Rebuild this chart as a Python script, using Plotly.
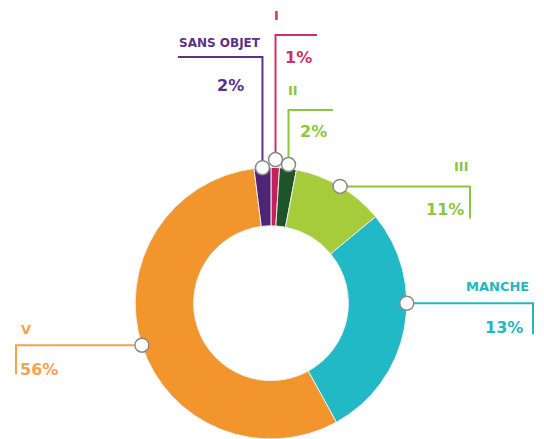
import math
import plotly.graph_objects as go

# ---- data ----
categories = ["I", "II", "III", "MANCHE", "V", "SANS OBJET"]
values = [1, 2, 11, 28, 56, 2]          # drawn share of the ring
printed = ["1%", "2%", "11%", "13%", "56%", "2%"]  # percentages as printed on the chart
colors = ["#C3215E", "#1D5429", "#A6CB3B", "#20B9C5", "#F3952D", "#4F2472"]
line_colors = ["#C8336A", "#8DC63F", "#8DC63F", "#25B6C4", "#F6A24C", "#5B3287"]

W, H = 544, 439
dom_x = [0.2472, 0.7491]
dom_y = [0.0, 0.6185]

fig = go.Figure(go.Pie(
    labels=categories, values=values, sort=False, direction="clockwise", rotation=0,
    hole=0.57, marker=dict(colors=colors, line=dict(color="#EDEDED", width=1)),
    textinfo="none", hoverinfo="label+percent", showlegend=False,
    domain=dict(x=dom_x, y=dom_y),
))

# pie geometry in pixels
px0, px1 = dom_x[0] * W, dom_x[1] * W
py0, py1 = (1 - dom_y[1]) * H, (1 - dom_y[0]) * H
R = min(px1 - px0, py1 - py0) / 2
cx, cy = (px0 + px1) / 2, (py0 + py1) / 2

def X(p): return p / W
def Y(p): return 1 - p / H

# label layout: radial offset of marker, anchor-angle nudge (deg), leader type and geometry, text spots
layout_cfg = {
    "SANS OBJET": dict(dr=0, da=0, kind="up", turn=57, end=178,
                       name=(220, 43, "center"), pct=(230, 85, "center"), fs=(12, 16)),
    "I": dict(dr=8, da=0, kind="up", turn=35, end=317,
              name=(276, 16, "center"), pct=(298, 58, "center"), fs=(13, 16)),
    "II": dict(dr=4, da=0, kind="up", turn=110, end=333,
               name=(293, 90, "center"), pct=(313, 131, "center"), fs=(13, 16)),
    "III": dict(dr=0, da=0, kind="side", end=470, drop=32,
                name=(461, 167, "center"), pct=(445, 210, "center"), fs=(13, 16)),
    "MANCHE": dict(dr=0, da=-10.8, kind="side", end=533, drop=31,
                   name=(497, 286, "center"), pct=(504, 327, "center"), fs=(13, 16)),
    "V": dict(dr=0, da=0, kind="side", end=16, drop=29,
              name=(26, 329, "center"), pct=(39, 369, "center"), fs=(13, 16)),
}

shapes, annos = [], []
total = sum(values)
cum = 0
circles = []
for cat, v, txt, lc in zip(categories, values, printed, line_colors):
    cfg = layout_cfg[cat]
    mid = (cum + v / 2) / total * 360 + cfg["da"]
    cum += v
    r = R + cfg["dr"]
    mx = cx + r * math.sin(math.radians(mid))
    my = cy - r * math.cos(math.radians(mid))
    if cfg["kind"] == "up":
        pts = [(mx, my), (mx, cfg["turn"]), (cfg["end"], cfg["turn"])]
    else:
        pts = [(mx, my), (cfg["end"], my), (cfg["end"], my + cfg["drop"])]
    path = "M " + " L ".join(f"{X(a):.5f},{Y(b):.5f}" for a, b in pts)
    shapes.append(dict(type="path", path=path, xref="paper", yref="paper",
                       line=dict(color=lc, width=2)))
    circles.append((mx, my))
    for (tx, ty, al), s, t in [(cfg["name"], cfg["fs"][0], cat), (cfg["pct"], cfg["fs"][1], txt)]:
        annos.append(dict(x=X(tx), y=Y(ty), xref="paper", yref="paper", text=f"<b>{t}</b>",
                          showarrow=False, xanchor=al, yanchor="middle",
                          font=dict(family="DejaVu Sans", size=s, color=lc)))

cr = 7
for mx, my in circles:
    shapes.append(dict(type="circle", xref="paper", yref="paper",
                       x0=X(mx - cr), x1=X(mx + cr), y0=Y(my + cr), y1=Y(my - cr),
                       fillcolor="white", line=dict(color="#8A8A8A", width=1.5)))

fig.update_layout(width=W, height=H, margin=dict(l=0, r=0, t=0, b=0),
                  paper_bgcolor="white", plot_bgcolor="white",
                  shapes=shapes, annotations=annos)
fig.write_html("out.html", config={"displayModeBar": False},
               post_script="document.body.style.margin='0';document.body.style.overflow='hidden';")
